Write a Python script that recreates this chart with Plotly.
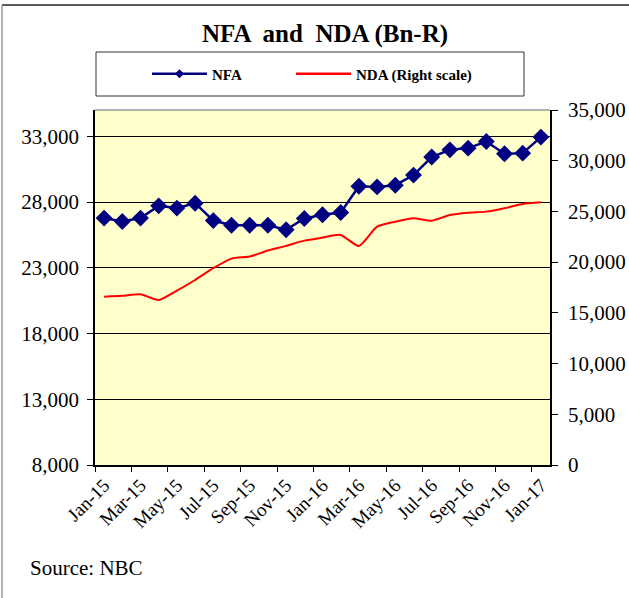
import plotly.graph_objects as go

months = ["Jan-15","Feb-15","Mar-15","Apr-15","May-15","Jun-15","Jul-15","Aug-15","Sep-15","Oct-15","Nov-15","Dec-15",
          "Jan-16","Feb-16","Mar-16","Apr-16","May-16","Jun-16","Jul-16","Aug-16","Sep-16","Oct-16","Nov-16","Dec-16","Jan-17"]
nfa = [26780, 26520, 26780, 27710, 27540, 27910, 26590, 26240, 26240, 26230, 25890, 26750,
       27030, 27200, 29200, 29150, 29280, 30050, 31420, 31970, 32100, 32600, 31670, 31720, 32940]
nda = [16600, 16680, 16830, 16270, 17190, 18240, 19400, 20350, 20550, 21140, 21600, 22120,
       22420, 22680, 21600, 23500, 23990, 24330, 24090, 24650, 24880, 24980, 25310, 25740, 25900]
label_months = months[::2]
left_ticks = [8000, 13000, 18000, 23000, 28000, 33000]
right_ticks = [0, 5000, 10000, 15000, 20000, 25000, 30000, 35000]

FONT = "Liberation Serif, Times New Roman, serif"
W, H = 629, 598
L, R, T, B = 95, 550, 110, 465

def px(x):
    return (x - L) / (R - L)

def py(y):
    return (B - y) / (B - T)

NAVY = "#000080"
fig = go.Figure()
fig.add_trace(go.Scatter(x=months, y=nfa, name="NFA", mode="lines+markers",
                         line=dict(color=NAVY, width=2.5),
                         marker=dict(symbol="diamond", size=13, color=NAVY),
                         yaxis="y", showlegend=False))
fig.add_trace(go.Scatter(x=months, y=nda, name="NDA (Right scale)", mode="lines",
                         line=dict(color="#FF0000", width=2, shape="spline", smoothing=0.6),
                         yaxis="y2", showlegend=False))
# legend entries
fig.add_trace(go.Scatter(x=[None], y=[None], name="<b>NFA</b>", mode="lines+markers",
                         line=dict(color=NAVY, width=2.5),
                         marker=dict(symbol="diamond", size=7, color=NAVY), legend="legend"))
fig.add_trace(go.Scatter(x=[None], y=[None], name="<b>NDA (Right scale)</b>", mode="lines",
                         line=dict(color="#FF0000", width=2.5), yaxis="y2", legend="legend2"))

legend_common = dict(orientation="h", yanchor="middle", xanchor="left", bgcolor="rgba(0,0,0,0)",
                     font=dict(family=FONT, size=15), itemwidth=55)

fig.update_layout(
    width=W, height=H,
    margin=dict(l=L, r=W - R, t=T, b=H - B, autoexpand=False),
    paper_bgcolor="white", plot_bgcolor="#FFFFCC",
    font=dict(family=FONT, size=20, color="black"),
    title=dict(text="<b>NFA  and  NDA (Bn-R)</b>", x=px(325), xanchor="center", xref="paper",
               y=1 - 33 / H, yanchor="middle",
               font=dict(family=FONT, size=25, color="black")),
    showlegend=True,
    legend=dict(x=px(147), y=py(74), **legend_common),
    legend2=dict(x=px(291), y=py(74), **legend_common),
    xaxis=dict(type="category", range=[-0.5, 24.5], tickvals=label_months, ticktext=label_months,
               tickangle=-45, ticks="", showgrid=False, showline=True, linecolor="black", linewidth=1.5,
               tickfont=dict(family=FONT, size=19), zeroline=False, automargin=False),
    xaxis2=dict(overlaying="x", range=[-0.5, 24.5], tickvals=[i - 0.5 for i in range(0, 26, 2)],
                ticks="outside", ticklen=6, tickcolor="black", showticklabels=False, showgrid=False,
                zeroline=False, side="bottom", anchor="y", automargin=False),
    yaxis=dict(range=[8000, 35000], tickvals=left_ticks, tickformat=",", ticks="outside", ticklen=6,
               tickcolor="black", showgrid=True, gridcolor="black", gridwidth=1, showline=True,
               linecolor="black", linewidth=1.5, zeroline=False, tickfont=dict(family=FONT, size=21),
               ticklabelstandoff=4, automargin=False),
    yaxis2=dict(range=[0, 35000], tickvals=right_ticks, tickformat=",", ticks="outside", ticklen=6,
                tickcolor="black", overlaying="y", side="right", showgrid=False, showline=True,
                linecolor="black", linewidth=1.5, zeroline=False, tickfont=dict(family=FONT, size=21),
                ticklabelstandoff=6, automargin=False),
)
# dummy trace for the tick axis
fig.add_trace(go.Scatter(x=[0], y=[None], xaxis="x2", yaxis="y", showlegend=False, hoverinfo="skip"))

shapes = [
    dict(type="line", xref="paper", yref="paper", x0=0, x1=1, y0=1, y1=1, line=dict(color="#999999", width=1.5)),
    dict(type="rect", xref="paper", yref="paper", x0=px(96), x1=px(524), y0=py(96), y1=py(52),
         line=dict(color="#333333", width=1)),
    dict(type="line", xref="paper", yref="paper", x0=px(2), x1=px(640), y0=py(5), y1=py(5),
         line=dict(color="#222222", width=1.5)),
    dict(type="line", xref="paper", yref="paper", x0=px(2), x1=px(2), y0=py(5), y1=py(600),
         line=dict(color="#999999", width=1.5)),
]
fig.update_layout(shapes=shapes)
fig.add_annotation(text="Source: NBC", xref="paper", yref="paper", x=px(28), y=py(568),
                   xanchor="left", yanchor="middle", showarrow=False, font=dict(family=FONT, size=21))

fig.write_html("out.html", config={"displayModeBar": False},
               post_script="document.body.style.margin='0px';")
